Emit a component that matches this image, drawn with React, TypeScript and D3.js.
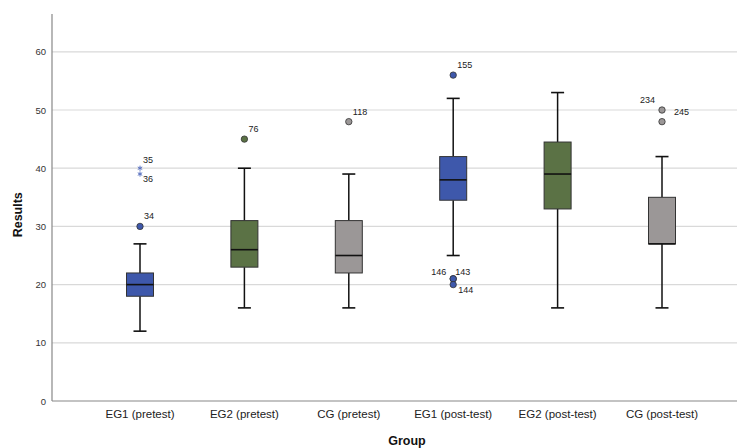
import React from "react";
import * as d3 from "d3";

const categories = ["EG1 (pretest)", "EG2 (pretest)", "CG (pretest)", "EG1 (post-test)", "EG2 (post-test)", "CG (post-test)"];
const lowWhisker = [12, 16, 16, 25, 16, 16];
const q1 = [18, 23, 22, 34.5, 33, 27];
const medians = [20, 26, 25, 38, 39, 27];
const q3 = [22, 31, 31, 42, 44.5, 35];
const highWhisker = [27, 40, 39, 52, 53, 42];
const boxColors = ["#3e58ab", "#5b7245", "#9b9797", "#3e58ab", "#5b7245", "#9b9797"];
// outliers: [categoryIndex, value, label, kind, labelDx, labelDy]
const outliers: [number, number, string, string, number, number][] = [
  [0, 30, "34", "circle", 4, -7],
  [0, 40, "35", "star", 3, -5],
  [0, 39, "36", "star", 3, 8],
  [1, 45, "76", "circle", 4, -7],
  [2, 48, "118", "circle", 4, -7],
  [3, 56, "155", "circle", 4, -7],
  [3, 21, "146", "circle", -22, -4],
  [3, 21, "143", "circle", 2, -4],
  [3, 20, "144", "circle", 5, 8],
  [5, 50, "234", "circle", -22, -7],
  [5, 48, "245", "circle", 12, -7],
];
const yTicks = [0, 10, 20, 30, 40, 50, 60];

export default function App() {
  const W = 737, H = 448;
  const left = 52, right = 737, top = 14, bottom = 401;
  const y = d3.scaleLinear().domain([0, 66.5]).range([bottom, top]);
  const x = d3.scalePoint<string>().domain(categories).range([140, 662]);
  const boxW = 27, capW = 13;
  const font = "'Liberation Sans', Arial, sans-serif";
  const star = d3.symbol().type(d3.symbolAsterisk).size(18)();
  return (
    <svg width={W} height={H} style={{ position: "absolute", left: 0, top: 0, background: "#fff" }} fontFamily={font}>
      {yTicks.filter(t => t > 0).map(t => (
        <line key={t} x1={left} x2={right} y1={y(t)} y2={y(t)} stroke="#d9d9d9" strokeWidth={1.2} />
      ))}
      {yTicks.map(t => (
        <text key={"l" + t} x={left - 6} y={y(t) + 3.5} fontSize={9.5} textAnchor="end" fill="#333">{t}</text>
      ))}
      <line x1={left} x2={left} y1={top} y2={bottom} stroke="#888" strokeWidth={1.2} />
      <line x1={left} x2={right} y1={bottom} y2={bottom} stroke="#888" strokeWidth={1.2} />
      {categories.map((c, i) => {
        const cx = x(c)!;
        return (
          <g key={c}>
            <line x1={cx} x2={cx} y1={y(highWhisker[i])} y2={y(q3[i])} stroke="#111" strokeWidth={1.5} />
            <line x1={cx} x2={cx} y1={y(q1[i])} y2={y(lowWhisker[i])} stroke="#111" strokeWidth={1.5} />
            <line x1={cx - capW / 2} x2={cx + capW / 2} y1={y(highWhisker[i])} y2={y(highWhisker[i])} stroke="#111" strokeWidth={1.6} />
            <line x1={cx - capW / 2} x2={cx + capW / 2} y1={y(lowWhisker[i])} y2={y(lowWhisker[i])} stroke="#111" strokeWidth={1.6} />
            <rect x={cx - boxW / 2} y={y(q3[i])} width={boxW} height={y(q1[i]) - y(q3[i])} fill={boxColors[i]} stroke="#333" strokeWidth={1} />
            <line x1={cx - boxW / 2} x2={cx + boxW / 2} y1={y(medians[i])} y2={y(medians[i])} stroke="#111" strokeWidth={1.6} />
            <text x={cx} y={418} fontSize={11.5} textAnchor="middle" fill="#222">{c}</text>
          </g>
        );
      })}
      {outliers.map(([ci, v, lab, kind, dx, dy], k) => {
        const cx = x(categories[ci])!;
        const cy = y(v);
        return (
          <g key={k}>
            {kind === "circle" ? (
              <circle cx={cx} cy={cy} r={3.2} fill={boxColors[ci]} stroke="#333" strokeWidth={0.8} />
            ) : (
              <path d={star!} transform={`translate(${cx},${cy})`} fill="none" stroke="#5a72c0" strokeWidth={1} />
            )}
            <text x={cx + dx} y={cy + dy} fontSize={9} fill="#222">{lab}</text>
          </g>
        );
      })}
      <text transform={`translate(22,${y(32)}) rotate(-90)`} fontSize={12.5} fontWeight="bold" textAnchor="middle" fill="#111">Results</text>
      <text x={407} y={445} fontSize={12.5} fontWeight="bold" textAnchor="middle" fill="#111">Group</text>
    </svg>
  );
}
